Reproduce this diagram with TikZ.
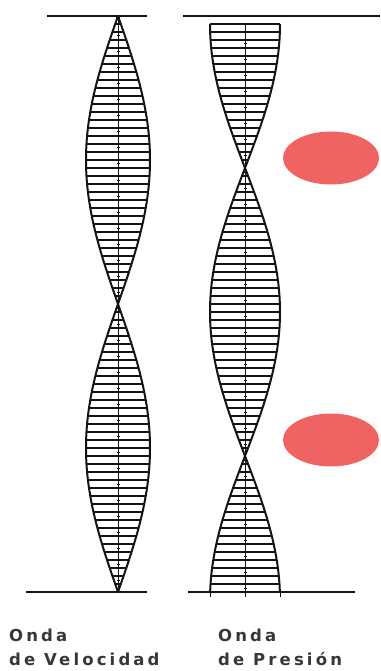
\documentclass[tikz,border=0pt]{standalone}
\usepackage{fontspec}
\newfontfamily\labelfont[LetterSpace=19]{DejaVu Sans}
\usepackage{tikz}
\usetikzlibrary{shapes.geometric, positioning}
\definecolor{mydark}{RGB}{20,20,20}
\definecolor{myred}{RGB}{239,99,99}
\tikzset{
  wall/.style={line width=1.6pt, color=mydark},
  outline/.style={line width=2pt, color=mydark},
  hatch/.style={line width=1.4pt, color=mydark},
  midline/.style={line width=1pt, color=mydark},
  blob/.style={ellipse, fill=myred, draw=none, minimum width=96pt, minimum height=53pt},
  lbl/.style={font=\labelfont\bfseries\fontsize{16.5}{24}\selectfont, anchor=base west, inner sep=0pt, text=mydark!85}
}

\begin{document}
\begin{tikzpicture}[x=1pt, y=-1pt]
  \useasboundingbox (0,0) rectangle (380,671);

  % Walls
  \draw[wall] (47,16) -- (147,16);
  \draw[wall] (183,16) -- (380,16);
  \draw[wall] (26,592) -- (147,592);
  \draw[wall] (188,592) -- (355,592);

  % Velocity wave
  \draw[midline] (118,16) -- (118,592);
  \foreach \y in {16,24,...,592} {
    \pgfmathsetmacro\w{32*abs(sin(0.625*(\y-16)))}
    \draw[hatch] ({118-\w},\y) -- ({118+\w},\y);
  }
  \foreach \s in {-1,1}
    \draw[outline] plot[domain=16:592, samples=145] ({118+\s*32*abs(sin(0.625*(\x-16)))}, \x);
  \foreach \y in {36,52,...,580}
    \draw[midline] (116.5,\y) -- (119.5,\y);
  \fill[mydark] (118,17) circle (2pt);

  % Pressure wave
  \draw[midline] (245,24) -- (245,597);
  \foreach \y in {24,32,...,592} {
    \pgfmathsetmacro\w{35*abs(cos(0.625*(\y-24)))}
    \draw[hatch] ({245-\w},\y) -- ({245+\w},\y);
  }
  \foreach \s in {-1,1}
    \draw[outline] plot[domain=24:592, samples=143] ({245+\s*35*abs(cos(0.625*(\x-24)))}, \x);
  \foreach \y in {44,60,...,588}
    \draw[midline] (243.5,\y) -- (246.5,\y);
  \draw[outline] (210,592) -- (280,592);
  \foreach \x in {210,245,280}
    \draw[midline] (\x,592) -- (\x,597);

  % Pressure antinodes
  \node[blob] (blobA) at (331,158) {};
  \node[blob] (blobB) at (331,440) {};

  % Labels
  \node[lbl] (velA) at (9,641) {Onda};
  \node[lbl] (velB) at (9,665) {de Velocidad};
  \node[lbl] (presA) at (218,641) {Onda};
  \node[lbl] (presB) at (218,665) {de Presión};
\end{tikzpicture}
\end{document}
